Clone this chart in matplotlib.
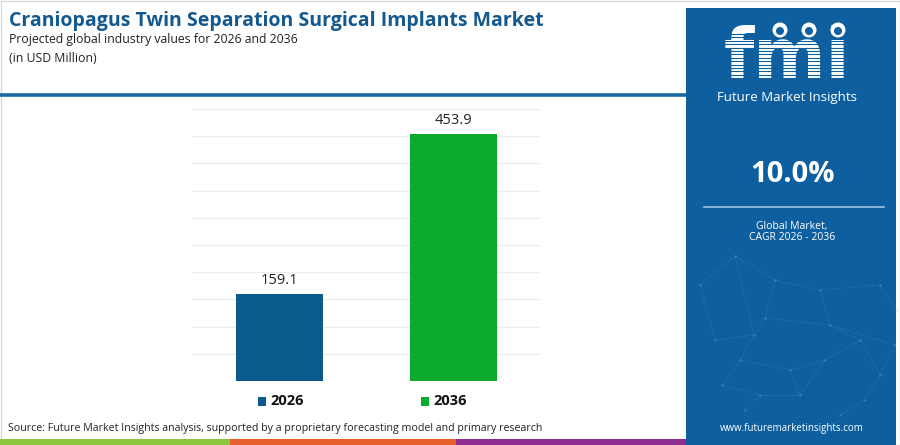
import matplotlib
matplotlib.use("Agg")
import matplotlib.pyplot as plt
from matplotlib.patches import Rectangle, Circle
import numpy as np

# ── data ─────────────────────────────────────────────
years = ["2026", "2036"]
values = [159.1, 453.9]
bar_colors = ["#0b5a8e", "#0aab2f"]
cagr = "10.0%"

TITLE = "Craniopagus Twin Separation Surgical Implants Market"
SUB1 = "Projected global industry values for 2026 and 2036"
SUB2 = "(in USD Million)"
SOURCE = "Source: Future Market Insights analysis, supported by a proprietary forecasting model and primary research"

PANEL = "#0d5f9f"
TITLE_C = "#13598f"
W, H = 900, 445

fig = plt.figure(figsize=(9, 4.45), dpi=100, facecolor="white")

def fx(x):
    return x / W

def fy(y):
    return 1 - y / H

# background overlay axis for decorations
bg = fig.add_axes([0, 0, 1, 1])
bg.set_xlim(0, W); bg.set_ylim(H, 0); bg.axis("off")

# outer border
bg.add_patch(Rectangle((0.5, 0.5), W - 1, H - 1, fill=False, ec="#d8d8d8", lw=1))

# right panel
bg.add_patch(Rectangle((686, 8), 210, H - 8, fc=PANEL, ec="none"))

# faint network texture in panel
pts = np.array([[735, 256], [700, 285], [775, 280], [820, 290], [880, 285],
                [765, 318], [830, 325], [895, 345], [715, 340], [754, 335],
                [860, 340], [740, 360], [790, 370], [825, 360], [880, 375],
                [722, 385], [760, 395], [800, 395], [865, 400], [840, 415],
                [745, 410], [897, 310]])
edges = [(0, 1), (0, 2), (2, 3), (3, 4), (2, 5), (3, 6), (6, 7), (1, 8), (8, 9),
         (9, 5), (5, 6), (6, 10), (9, 11), (11, 12), (12, 13), (13, 10), (10, 14),
         (11, 15), (15, 16), (16, 17), (17, 13), (14, 18), (18, 19), (16, 20),
         (4, 21), (12, 17), (0, 9), (7, 14)]
for a, b in edges:
    bg.plot([pts[a, 0], pts[b, 0]], [pts[a, 1], pts[b, 1]],
            color="#6fa6d0", lw=0.5, alpha=0.2)
bg.scatter(pts[:, 0], pts[:, 1], s=3, color="#8fbbe0", alpha=0.3, lw=0)

# title block separator
bg.plot([0, 686], [95, 95], color="#1b6aa5", lw=2.6, solid_capstyle="butt")

# bottom stripe
for x0, x1, c in [(0, 230, "#8dc63f"), (230, 456, "#e8602c"), (456, 686, "#8e2c8f")]:
    bg.add_patch(Rectangle((x0, 439), x1 - x0, 6, fc=c, ec="none"))

# titles
bg.text(9, 21, TITLE, fontsize=14, fontweight="bold", color=TITLE_C,
        family="Open Sans", va="center", ha="left")
bg.text(9, 40, SUB1, fontsize=8.8, color="#222222", family="Open Sans",
        va="center", ha="left")
bg.text(9, 58, SUB2, fontsize=8.8, color="#222222", family="Open Sans",
        va="center", ha="left")

# source
bg.text(8, 429, SOURCE, fontsize=7.7, color="#222222", family="Open Sans",
        va="center", ha="left")

# logo: striped fmi letters
bg.text(787, 58, "fmi", fontsize=50, fontweight="bold", color="white",
        family="DejaVu Sans", va="center", ha="center", zorder=3)
for yy in np.arange(34, 88, 3.4):
    bg.plot([712, 862], [yy, yy], color=PANEL, lw=0.8, zorder=4)
for cx in [780, 809, 838]:
    bg.add_patch(Circle((cx, 30), 7.5, fc="white", ec="none", zorder=5))
    bg.add_patch(Circle((cx, 31), 4, fc=PANEL, ec="none", zorder=5))
bg.text(787, 97, "Future Market Insights", fontsize=9.5, color="white",
        family="Open Sans", va="center", ha="center")

# CAGR block
bg.text(792, 175, cagr, fontsize=21, fontweight="bold", color="white",
        family="Open Sans", va="center", ha="center")
bg.plot([704, 884], [207, 207], color="#9cc3e3", lw=1.2)
bg.text(792, 226, "Global Market,", fontsize=7.5, color="white",
        family="Open Sans", va="center", ha="center")
bg.text(792, 238, "CAGR 2026 - 2036", fontsize=7.5, color="white",
        family="Open Sans", va="center", ha="center")
bg.text(792, 428, "www.futuremarketinsights.com", fontsize=7, color="white",
        family="Open Sans", va="center", ha="center")

# ── bar chart ────────────────────────────────────────
ax = fig.add_axes([fx(192), fy(381), fx(540) - fx(192), fy(109) - fy(381)])
ax.set_facecolor("none")
xpos = np.arange(len(years))
bars = ax.bar(xpos, values, width=0.5, color=bar_colors, zorder=3)
for b, v in zip(bars, values):
    ax.text(b.get_x() + b.get_width() / 2, v + 12, f"{v:.1f}", ha="center",
            va="bottom", fontsize=10.5, color="#222222", family="Open Sans")
ax.set_xlim(-0.5, 1.5)
ax.set_ylim(0, 500)
ax.set_yticks(np.arange(0, 501, 50))
ax.grid(axis="y", color="#ececec", lw=0.9, zorder=0)
ax.tick_params(left=False, bottom=False, labelleft=False, labelbottom=False)
for s in ax.spines.values():
    s.set_visible(False)

# legend
for (lx, ly), lab, c in zip([(258, 401), (421, 401)], years, bar_colors):
    bg.add_patch(Rectangle((lx, ly - 4.5), 8, 9, fc=c, ec="none"))
    bg.text(lx + 12, ly, lab, fontsize=10.5, fontweight="bold", color="#111111",
            family="Open Sans", va="center", ha="left")

fig.savefig("out.png", dpi=100, facecolor="white")
